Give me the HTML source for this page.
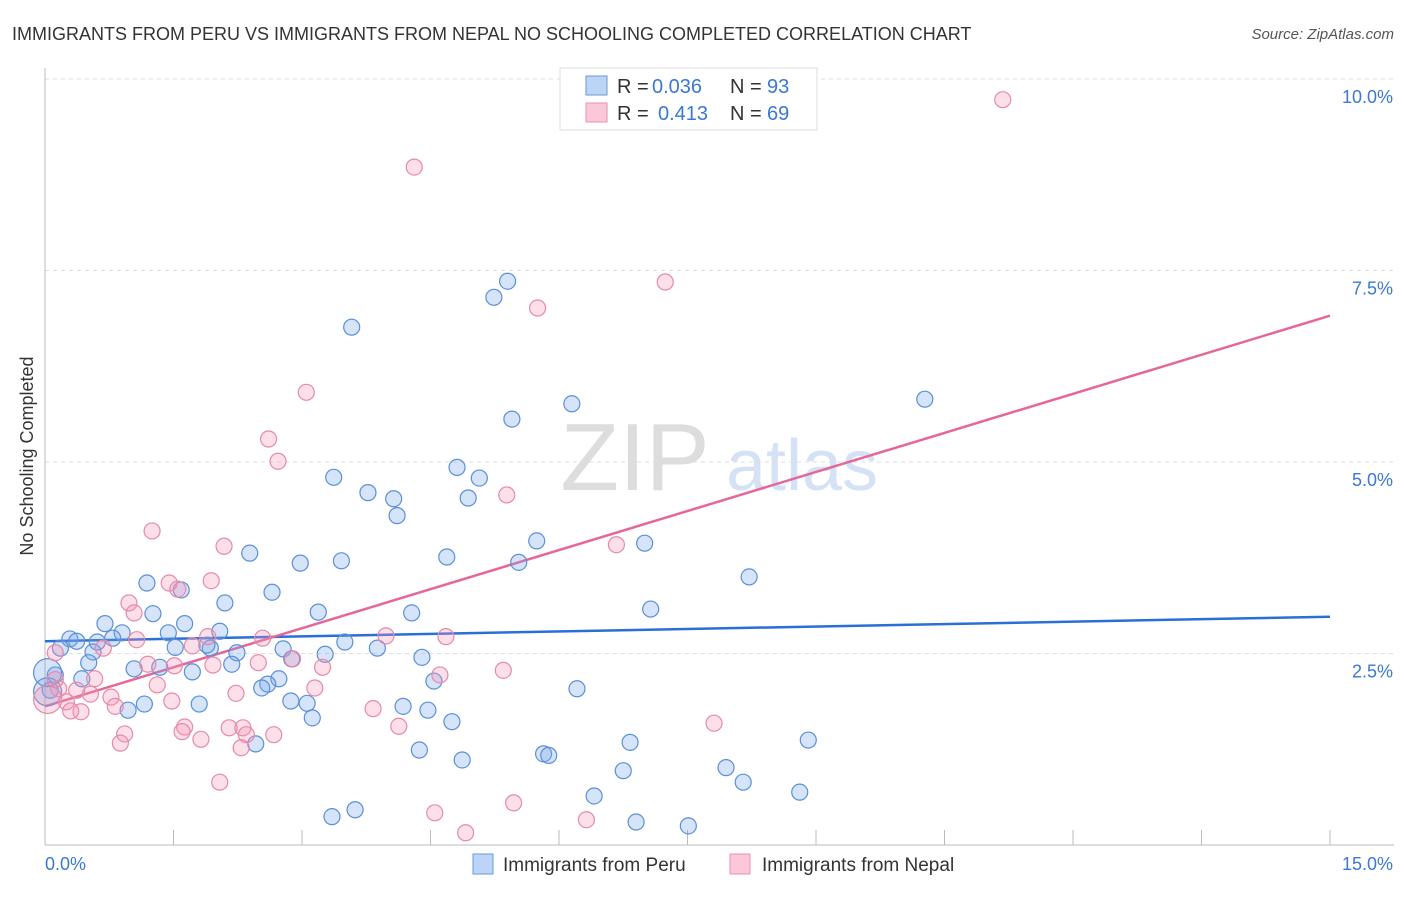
<!DOCTYPE html>
<html><head><meta charset="utf-8">
<style>
body{margin:0;background:#fff;font-family:"Liberation Sans",sans-serif;}
svg text{font-family:"Liberation Sans",sans-serif;}
</style></head>
<body>
<svg id="chart" width="1406" height="892" xmlns="http://www.w3.org/2000/svg">
<text x="12" y="40" font-size="18" fill="#333">IMMIGRANTS FROM PERU VS IMMIGRANTS FROM NEPAL NO SCHOOLING COMPLETED CORRELATION CHART</text>
<text x="1394" y="39" font-size="15" fill="#555" font-style="italic" text-anchor="end">Source: ZipAtlas.com</text>
<g>
<text x="635" y="490" font-size="96" fill="#ddd" font-family="Liberation Serif" text-anchor="middle">ZIP</text>
<text x="802" y="490" font-size="72" fill="#d5e2f5" text-anchor="middle">atlas</text>
</g>
<g id="grid"></g>
<g id="axes"></g>
<g id="trends"></g>
<g id="points"></g>
<text transform="translate(33,456) rotate(-90)" font-size="18" fill="#333" text-anchor="middle">No Schooling Completed</text>
<g>
<rect x="560" y="68" width="257" height="62" fill="#fff" stroke="#ddd"/>
<rect x="586" y="76" width="21" height="19" fill="#bcd4f5" stroke="#6a9ad8"/>
<rect x="586" y="103" width="21" height="19" fill="#fcc8d7" stroke="#e890ad"/>
<text x="617" y="93" font-size="20" fill="#333">R =</text>
<text x="652" y="93" font-size="20" fill="#3a78d4">0.036</text>
<text x="730" y="93" font-size="20" fill="#333">N =</text>
<text x="767" y="93" font-size="20" fill="#3a78d4">93</text>
<text x="617" y="120" font-size="20" fill="#333">R =</text>
<text x="658" y="120" font-size="20" fill="#3a78d4">0.413</text>
<text x="730" y="120" font-size="20" fill="#333">N =</text>
<text x="767" y="120" font-size="20" fill="#3a78d4">69</text>
</g>
<g>
<rect x="473" y="854" width="20" height="20" fill="#bcd4f5" stroke="#6a9ad8"/>
<text x="503" y="871" font-size="19" fill="#333">Immigrants from Peru</text>
<rect x="730" y="854" width="20" height="20" fill="#fcc8d7" stroke="#e890ad"/>
<text x="762" y="871" font-size="19" fill="#333">Immigrants from Nepal</text>
</g>
</svg>
<script>
const yTicks=[2.5,5,7.5,10];
const yTickLabels=["2.5%","5.0%","7.5%","10.0%"];
const xTicks=[0,1.5,3,4.5,6,7.5,9,10.5,12,13.5,15];
const peruX=[5.40,5.24,3.58,10.27,6.15,5.45,4.81,3.37,5.07,3.77,4.07,4.94,4.11,5.74,7.00,2.39,4.69,2.98,3.46,5.53,8.22,1.19,1.59,2.65,2.10,1.26,3.19,7.07,4.28,0.70,1.63,0.90,2.04,0.29,0.37,0.79,0.61,1.44,3.50,0.18,0.56,1.52,2.78,1.93,2.24,3.88,1.89,3.27,4.40,2.88,0.51,1.04,1.34,2.18,1.72,0.43,2.73,2.60,4.54,2.53,6.21,0.06,0.12,2.87,3.06,4.18,1.80,1.16,0.97,4.47,3.12,4.75,6.83,8.91,2.46,4.37,5.82,5.88,4.87,7.95,6.75,8.15,6.41,8.81,3.62,3.35,6.90,7.51,0.03,0.03];
const peruY=[7.36,7.15,6.76,5.82,5.76,5.56,4.93,4.80,4.79,4.60,4.52,4.53,4.30,3.97,3.94,3.81,3.76,3.68,3.71,3.69,3.50,3.42,3.33,3.30,3.16,3.02,3.04,3.08,3.03,2.89,2.89,2.77,2.79,2.69,2.66,2.70,2.65,2.77,2.65,2.57,2.52,2.58,2.56,2.57,2.51,2.57,2.61,2.49,2.45,2.43,2.38,2.30,2.32,2.36,2.26,2.17,2.17,2.10,2.14,2.05,2.04,2.02,2.22,1.88,1.85,1.81,1.84,1.84,1.76,1.76,1.66,1.61,1.34,1.37,1.32,1.24,1.19,1.17,1.11,1.01,0.97,0.82,0.64,0.69,0.46,0.37,0.30,0.25,2.25,2.0];
const nepalX=[11.18,4.31,7.24,5.75,3.05,2.61,2.72,5.39,1.25,6.67,2.09,1.94,1.45,1.55,0.98,1.04,3.98,4.68,2.54,1.90,1.07,1.72,0.68,0.12,2.89,1.20,2.49,1.51,1.96,3.24,5.35,4.61,0.58,1.31,0.16,3.15,0.37,2.23,0.53,0.77,1.48,0.25,0.82,0.42,3.83,0.30,7.81,1.63,2.15,4.13,2.31,1.60,2.35,2.67,0.93,1.82,0.88,2.29,2.04,5.47,4.55,6.32,4.91,0.03,0.12];
const nepalY=[9.73,8.85,7.35,7.01,5.91,5.30,5.01,4.57,4.10,3.92,3.90,3.45,3.42,3.34,3.16,3.03,2.73,2.72,2.70,2.72,2.68,2.60,2.57,2.51,2.43,2.36,2.38,2.34,2.35,2.32,2.28,2.22,2.17,2.09,2.04,2.05,2.02,1.98,1.97,1.93,1.88,1.87,1.81,1.74,1.78,1.75,1.59,1.54,1.53,1.55,1.53,1.48,1.44,1.44,1.45,1.38,1.33,1.27,0.82,0.55,0.42,0.33,0.16,1.90,2.16];
const peruTrend=[2.66,2.98];
const nepalTrend=[1.81,6.91];
const NS="http://www.w3.org/2000/svg";
const X=v=>45+v*(1285/15);
const Y=v=>845-v*76.6;
function mk(tag,attrs,parent){const e=document.createElementNS(NS,tag);for(const k in attrs)e.setAttribute(k,attrs[k]);parent.appendChild(e);return e;}
const grid=document.getElementById('grid'),axes=document.getElementById('axes'),pts=document.getElementById('points'),tr=document.getElementById('trends');
yTicks.forEach((t,i)=>{
 const l=mk('line',{x1:45,x2:1394,y1:Y(t),y2:Y(t),stroke:'#ddd','stroke-dasharray':'4,4'},grid);
 
 
 const tx=mk('text',{x:1393,y:Y(t)+24,'font-size':18,fill:'#3a78d4','text-anchor':'end'},axes);
 tx.textContent=yTickLabels[i];
 
 
});
mk('line',{x1:45,x2:45,y1:68,y2:845,stroke:'#bbb'},axes);
mk('line',{x1:45,x2:1394,y1:845,y2:845,stroke:'#bbb'},axes);
xTicks.forEach(t=>{
 const l=mk('line',{x1:X(t),x2:X(t),y1:830,y2:845,stroke:'#bbb'},axes);
 
 
});
const x0=mk('text',{x:45,y:870,'font-size':18,fill:'#3a78d4'},axes);x0.textContent='0.0%';


const x1=mk('text',{x:1393,y:870,'font-size':18,fill:'#3a78d4','text-anchor':'end'},axes);x1.textContent='15.0%';


function series(xs,ys,fill,stroke,name){
 xs.forEach((v,i)=>{
  const big=(i>=xs.length-2&&v<0.1);
  const c=mk('circle',{cx:X(v),cy:Y(ys[i]),r:big?14:8,fill:fill,stroke:stroke,'stroke-width':1.2},pts);
  
  
 });
}
series(peruX,peruY,'rgba(120,165,235,0.3)','#5a8fd8','peru-point');
series(nepalX,nepalY,'rgba(245,150,180,0.3)','#e58aa8','nepal-point');
const tb=mk('line',{x1:X(0),y1:Y(peruTrend[0]),x2:X(15),y2:Y(peruTrend[1]),stroke:'#2a6fd6','stroke-width':2.5},tr);


const tp=mk('line',{x1:X(0),y1:Y(nepalTrend[0]),x2:X(15),y2:Y(nepalTrend[1]),stroke:'#e5679a','stroke-width':2.5},tr);


</script>
</body></html>
